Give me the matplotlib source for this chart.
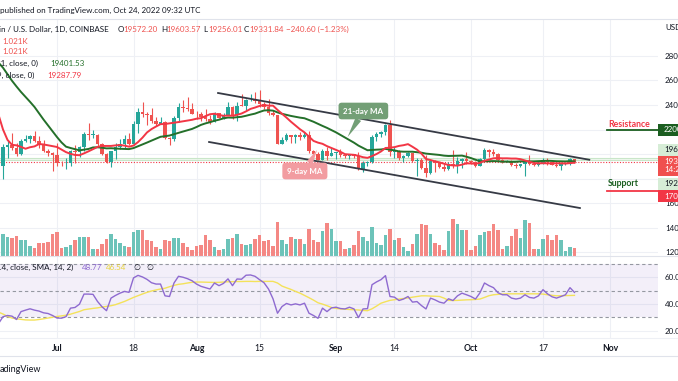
import numpy as np
import pandas as pd
import matplotlib
matplotlib.use('Agg')
import matplotlib.pyplot as plt
import matplotlib.dates as mdates
from matplotlib import transforms
from matplotlib.lines import Line2D
from matplotlib.patches import Rectangle

plt.rcParams['font.family'] = ['Lato', 'DejaVu Sans']

# daily BTC/USD candles, 18 Jun - 24 Oct 2022
dates = pd.date_range('2022-06-18', '2022-10-24', freq='D')

opens = [20390, 19010, 20560, 20710, 20500, 19970, 21090, 21230, 21490, 21030, 20730, 20270, 20100,
         19940, 19280, 19240, 19300, 20230, 20200, 20550, 21630, 21590, 21590, 20850, 19970, 19330, 20220, 20590, 20830,
         21200, 20790, 22430, 23400, 23230, 23160, 22680, 22460, 22580, 21310, 21250, 22950, 23850, 23780, 23640,
         23300, 23270, 22990, 22820, 22620, 23310, 22950, 23170, 23810, 23160, 23950, 23940, 24400, 24440, 24310, 24110,
         23850, 23340, 23190, 20830, 21140, 21520, 21400, 21530, 21370, 21560, 20240, 20040, 19550, 20280, 19800,
         20050, 20130, 19950, 19830, 20000, 19800, 18790, 19290, 19320, 21360, 21650, 21830, 22400, 20170, 20230,
         19700, 19800, 20110, 19420, 19540, 18880, 18480, 19400, 19290, 18920, 18800, 19220, 19080, 19410, 19590,
         19420, 19310, 19050, 19620, 20340, 20160, 19960, 19530, 19420, 19440, 19130, 19060, 19150, 19380, 19180,
         19070, 19270, 19550, 19330, 19130, 19040, 19170, 19200, 19572.20]
highs = [20540, 20780, 21040, 21720, 20860, 21200, 21520, 21580, 21860, 21500, 21180, 20400, 20140,
         20870, 19430, 19640, 20320, 20730, 20650, 21830, 22510, 21940, 21600, 20860, 20050, 20220, 20860, 21200, 21570,
         21680, 22710, 23780, 24270, 23440, 23760, 22990, 22990, 22660, 21350, 23080, 24190, 24440, 24650, 24180,
         23470, 23450, 23640, 23200, 23450, 23340, 23370, 24240, 23920, 24220, 24900, 24450, 24880, 25050, 25200, 24250,
         24450, 23600, 23200, 21360, 21690, 21530, 21660, 21800, 21820, 21870, 20340, 20140, 20400, 20560, 20480,
         20200, 20440, 20030, 20000, 20040, 20180, 19460, 19450, 21550, 21800, 21850, 22480, 22800, 20550, 20340,
         19900, 20180, 20120, 19690, 19640, 19950, 19490, 19480, 19320, 19180, 19310, 20350, 19780, 19640, 20180,
         19480, 19400, 19700, 20470, 20370, 20440, 20050, 19620, 19550, 19520, 19260, 19220, 19500, 19950, 19220,
         19420, 19690, 19700, 19350, 19350, 19250, 19250, 19700, 19603.57]
lows = [17620, 17960, 19650, 20360, 19800, 19890, 20940, 20900, 21000, 20530, 20190, 19850, 18630,
        19000, 19030, 18780, 19050, 19300, 19780, 20260, 21180, 21330, 20670, 19900, 19250, 18920, 19630, 20390, 20480,
        20760, 20770, 21690, 23020, 22360, 22540, 22270, 22420, 21260, 20720, 21060, 22600, 23430, 23540, 23260,
        22880, 22660, 22680, 22440, 22600, 22920, 22850, 23160, 22880, 22700, 23900, 23600, 24300, 24160, 23800, 23700,
        23200, 23110, 20800, 20800, 21100, 20900, 20890, 21150, 21320, 20120, 19800, 19550, 19550, 19550, 19800,
        19580, 19760, 19650, 19600, 19640, 18660, 18540, 19000, 19300, 21100, 21370, 21560, 19860, 19650, 19500,
        19330, 19760, 19370, 18230, 18800, 18130, 18360, 18530, 18830, 18640, 18680, 18820, 18480, 18850, 19170,
        19160, 18930, 19000, 19500, 19730, 19850, 19330, 19250, 19320, 19020, 18860, 18970, 18190, 19090, 18980,
        19060, 19160, 19100, 19070, 18900, 18670, 19130, 19070, 19256.01]
closes = [19010, 20560, 20710, 20500, 19970, 21090, 21230, 21490, 21030, 20730, 20270, 20100, 19940,
          19280, 19240, 19300, 20230, 20200, 20550, 21630, 21590, 21600, 20850, 19970, 19330, 20220, 20590, 20830, 21200,
          20790, 22430, 23400, 23230, 23160, 22680, 22460, 22580, 21310, 21250, 22950, 23850, 23780, 23640, 23300,
          23270, 22990, 22820, 22620, 23310, 22950, 23170, 23810, 23160, 23950, 23940, 24400, 24440, 24310, 24110, 23850,
          23340, 23190, 20830, 21140, 21520, 21400, 21530, 21370, 21560, 20240, 20040, 19550, 20280, 19800, 20050,
          20130, 19950, 19830, 20000, 19800, 18790, 19290, 19320, 21360, 21650, 21830, 22400, 20170, 20230, 19700,
          19800, 20110, 19420, 19540, 18880, 18480, 19400, 19290, 18920, 18800, 19220, 19080, 19410, 19590, 19420,
          19310, 19050, 19620, 20340, 20160, 19960, 19530, 19420, 19440, 19130, 19060, 19150, 19380, 19180, 19070,
          19270, 19550, 19330, 19130, 19040, 19170, 19200, 19570, 19331.84]
volume_k = [25, 22, 19, 18, 20, 16, 16, 10, 8, 13, 13, 14, 22,
            24, 8, 9, 11, 16, 19, 19, 19, 7, 7, 12, 17, 22, 17, 13, 10, 9, 24, 26, 26, 16, 15, 9, 7, 16, 15, 18, 18, 13, 9, 6,
            10, 11, 21, 16, 9, 6, 7, 17, 18, 22, 12, 11, 12, 17, 21, 15, 16, 10, 34, 16, 12, 19, 17, 17, 12, 27, 16, 14, 25, 33, 27,
            15, 15, 7, 8, 11, 25, 19, 15, 29, 13, 11, 21, 27, 16, 18, 9, 5, 12, 22, 32, 31, 22, 13, 11, 6, 25, 37, 32, 26, 26,
            6, 10, 21, 24, 25, 32, 26, 7, 10, 20, 27, 18, 36, 33, 7, 7, 17, 21, 16, 21, 16, 5, 9, 8]
ma9 = [23200, 22000, 21150, 20750, 20706, 20582, 20430, 20551, 20621, 20812, 20780, 20712, 20650,
       20573, 20368, 20153, 20013, 19921, 19901, 20052, 20218, 20401, 20576, 20657, 20660, 20659, 20702, 20733, 20686,
       20597, 20690, 20973, 21336, 21761, 22034, 22242, 22437, 22449, 22500, 22558, 22608, 22669, 22722, 22791,
       22881, 22927, 23094, 23247, 23287, 23187, 23119, 23138, 23122, 23198, 23303, 23479, 23681, 23792, 23921, 23997,
       23944, 23948, 23601, 23290, 22970, 22632, 22323, 22019, 21764, 21420, 21070, 20928, 20832, 20641, 20491,
       20336, 20178, 19986, 19959, 19932, 19848, 19738, 19684, 19830, 19999, 20208, 20493, 20512, 20560, 20661,
       20718, 20806, 20590, 20356, 20028, 19592, 19507, 19402, 19316, 19204, 19106, 19068, 19053, 19132, 19237,
       19227, 19200, 19278, 19449, 19553, 19651, 19664, 19646, 19648, 19628, 19629, 19577, 19470, 19361, 19262,
       19233, 19248, 19236, 19236, 19233, 19236, 19216, 19259, 19287.79]
ma21 = [27463, 27040, 26515, 25977, 25509, 25063, 24660, 24261, 23838, 23331, 22814, 22333, 21849,
        21381, 20945, 20598, 20490, 20394, 20297, 20355, 20412, 20535, 20549, 20513, 20458, 20470, 20446, 20427, 20413,
        20401, 20482, 20631, 20780, 20934, 21096, 21249, 21405, 21457, 21507, 21621, 21727, 21831, 21929, 22045,
        22202, 22377, 22500, 22597, 22715, 22799, 22912, 22978, 22966, 23000, 23038, 23120, 23214, 23296, 23430, 23553,
        23572, 23540, 23400, 23281, 23196, 23107, 23038, 22969, 22918, 22772, 22633, 22461, 22293, 22133, 21947,
        21766, 21554, 21334, 21129, 20924, 20683, 20490, 20306, 20331, 20355, 20370, 20418, 20353, 20299, 20210,
        20189, 20192, 20186, 20151, 20107, 20032, 19998, 19966, 19923, 19866, 19838, 19852, 19858, 19870, 19778,
        19667, 19534, 19402, 19410, 19407, 19419, 19406, 19373, 19374, 19355, 19363, 19395, 19394, 19389, 19396,
        19419, 19434, 19446, 19433, 19407, 19395, 19390, 19414, 19401.53]
rsi = [25.5, 30.6, 31.5, 31.0, 28.5, 34.4, 35.5, 36.5, 35.5, 34.8, 33.5, 33.0, 31.5,
       29.6, 29.5, 30.6, 37.0, 37.5, 40.0, 47.5, 47.5, 47.3, 42.0, 38.0, 35.1, 44.5, 46.5, 48.2, 49.5,
       48.8, 59.6, 61.5, 60.3, 58.5, 56.0, 55.0, 55.0, 46.2, 45.7, 55.8, 60.8, 60.1, 59.0, 57.5,
       55.0, 53.3, 52.3, 51.3, 55.8, 53.8, 55.5, 58.9, 53.8, 58.8, 58.6, 61.6, 61.8, 60.8, 58.3, 56.0,
       51.3, 44.0, 33.2, 38.2, 40.5, 39.4, 40.2, 39.4, 40.7, 33.2, 31.5, 29.4, 37.0, 34.4, 37.2,
       37.7, 36.7, 36.4, 37.7, 36.4, 29.9, 36.4, 36.6, 54.5, 56.6, 58.3, 61.3, 45.7, 45.2, 42.7,
       43.8, 45.7, 41.5, 41.9, 38.9, 36.4, 44.5, 43.2, 41.5, 40.7, 44.0, 42.7, 46.2, 48.2, 47.0,
       45.7, 43.8, 48.5, 55.8, 53.8, 52.3, 48.5, 47.0, 47.0, 44.5, 43.8, 44.5, 47.0, 45.0, 44.5,
       46.2, 50.8, 47.7, 45.5, 44.5, 45.7, 47.0, 52.3, 48.77]
rsi_ma = [34.0, 32.6, 30.8, 29.6, 29.0, 28.6, 28.2, 28.1, 28.1, 28.5, 29.0, 29.6, 30.2,
          30.8, 31.2, 31.7, 32.5, 33.5, 34.5, 35.8, 36.3, 36.8, 37.2, 37.8, 38.3, 38.8, 39.6, 40.8, 42.0,
          43.5, 45.0, 46.3, 47.6, 48.8, 49.8, 50.6, 51.3, 51.9, 53.0, 54.0, 54.8, 55.2, 55.8, 56.3,
          56.5, 56.5, 56.4, 56.3, 56.2, 56.3, 56.5, 56.7, 56.8, 56.9, 56.9, 57.0, 57.0, 56.9, 57.0, 57.0,
          57.0, 57.0, 55.8, 53.5, 52.2, 51.0, 49.5, 48.2, 46.5, 44.8, 43.0, 41.0, 40.0, 38.8, 37.5,
          36.8, 36.4, 36.2, 36.0, 35.8, 35.6, 35.3, 35.1, 36.5, 38.5, 40.7, 41.8, 42.8, 43.3, 43.8,
          44.2, 44.6, 45.2, 45.7, 46.2, 46.2, 46.0, 45.9, 45.7, 44.5, 42.8, 42.7, 42.8, 43.0, 43.2,
          43.3, 43.5, 43.8, 45.0, 46.3, 47.0, 47.3, 47.5, 47.7, 47.7, 47.7, 47.7, 47.7, 47.7, 47.7,
          47.7, 47.5, 47.0, 46.6, 46.2, 46.3, 46.4, 46.5, 46.54]

tick_dates = ['2022-07-01', '2022-07-18', '2022-08-01', '2022-08-15', '2022-09-01',
              '2022-09-14', '2022-10-01', '2022-10-17', '2022-11-01']
tick_labels = ['Jul', '18', 'Aug', '15', 'Sep', '14', 'Oct', '17', 'Nov']
price_ticks = [12000, 14000, 16000, 18000, 20000, 22000, 24000, 26000, 28000]
hidden_ticks = [18000, 20000, 22000]  # sit behind the coloured price tags
rsi_ticks = [20, 40, 60]

# drawings on the chart
channel_upper = [('2022-08-05 19:00', 24980), ('2022-10-27 07:00', 19530)]
channel_lower = [('2022-08-03 19:00', 20980), ('2022-10-25 05:00', 15590)]
level_start = '2022-10-31 05:00'
resistance = 22000
support = 17000
last_close = 19331.84
zone = (19510, 19700)
ma21_note = [('2022-09-03 14:00', 21390), ('2022-09-07 02:00', 23510)]
ma9_note = [('2022-08-27 19:00', 20330), ('2022-08-25 02:00', 18610)]

UP, DOWN = '#26a69a', '#ef5350'
VOL_UP, VOL_DOWN = '#6cc3b9', '#f48884'
MA9_C, MA21_C = '#f23645', '#24702a'
GRID = '#eef0f5'
TXT = '#131722'

W, H = 678, 381
fig = plt.figure(figsize=(W / 100, H / 100), dpi=100)


def fx(px):
    return px / W


def fy(py):
    return 1 - py / H


def dn(s):
    return mdates.date2num(pd.Timestamp(s))


x = mdates.date2num(dates)
x0 = dn('2022-07-01')

main_box = [0, fy(256), fx(658), 237 / H]
rsi_box = [0, fy(338), fx(658), 82 / H]
vol_ax = fig.add_axes(main_box)
ax = fig.add_axes(main_box, sharex=vol_ax)
rsi_ax = fig.add_axes(rsi_box, sharex=vol_ax)
vol_ax.set_zorder(1)
ax.set_zorder(2)
ax.patch.set_visible(False)
for a in (vol_ax, ax, rsi_ax):
    for s in a.spines.values():
        s.set_visible(False)

rsi_ax.set_xlim(x0 - 12.67, x0 + 133.56)
rsi_ax.set_xticks([dn(d) for d in tick_dates])
rsi_ax.set_xticklabels(tick_labels)
for lab, t in zip(rsi_ax.get_xticklabels(), tick_labels):
    lab.set_fontweight('bold' if not t.isdigit() else 'normal')
rsi_ax.tick_params(axis='x', length=0, pad=4, labelsize=6.2, labelcolor=TXT)

# volume (behind the candles)
o, h, l, c = map(np.array, (opens, highs, lows, closes))
up = c >= o
vol_ax.bar(x, volume_k, width=0.78, color=np.where(up, VOL_UP, VOL_DOWN), lw=0, zorder=2)
vol_ax.set_ylim(0, 237)
vol_ax.tick_params(left=False, labelleft=False, bottom=False, labelbottom=False)
vol_ax.grid(axis='x', color=GRID, lw=0.8)
vol_ax.set_axisbelow(True)
blend = transforms.blended_transform_factory(vol_ax.transAxes, ax.transData)
for p in price_ticks:
    vol_ax.plot([0, 1], [p, p], transform=blend, color=GRID, lw=0.8, zorder=0)

# price pane
ax.set_ylim(11674, 31020)
ax.set_yticks(price_ticks)
ax.set_yticklabels(['' if p in hidden_ticks else str(p) for p in price_ticks])
ax.yaxis.tick_right()
ax.tick_params(axis='y', length=0, pad=5, labelsize=5.8, labelcolor=TXT)
ax.tick_params(axis='x', bottom=False, labelbottom=False)

ax.axhspan(zone[0], zone[1], color='#e6f4e6', alpha=0.6, lw=0, zorder=1)
for z in zone:
    ax.axhline(z, color='#c9e6c9', lw=0.8, zorder=1)
ax.axhline(last_close, color=MA9_C, lw=0.8, ls=(0, (1, 1.5)), zorder=2)

cols = np.where(up, UP, DOWN)
ax.vlines(x, l, h, colors=cols, lw=0.8, zorder=3)
ax.bar(x, np.maximum(np.abs(c - o), 30), bottom=np.minimum(o, c), width=0.7, color=cols, lw=0, zorder=4)
ax.plot(x, ma21, color=MA21_C, lw=1.4, zorder=5)
ax.plot(x, ma9, color=MA9_C, lw=1.4, zorder=5)

for line in (channel_upper, channel_lower):
    ax.plot([dn(line[0][0]), dn(line[1][0])], [line[0][1], line[1][1]], color='#363a45', lw=1.3, zorder=6)

x_end = x0 + 133.56
ax.plot([dn(level_start), x_end], [resistance, resistance], color='#1b5e20', lw=1.3, zorder=6)
ax.plot([dn(level_start), x_end], [support, support], color='#f23645', lw=1.3, zorder=6)
ax.text(dn(level_start) + 0.2, resistance + 430, 'Resistance', color='#f23645', fontsize=6.3,
        fontweight='bold', va='center', ha='left', zorder=6)
ax.text(dn(level_start) + 0.2, support + 590, 'Support', color='#1b5e20', fontsize=6.3,
        fontweight='bold', va='center', ha='left', zorder=6)

for note, text, fc in ((ma21_note, '21-day MA', '#739f76'), (ma9_note, '9-day MA', '#f29ca1')):
    ax.annotate(text, xy=(dn(note[0][0]), note[0][1]), xytext=(dn(note[1][0]), note[1][1]),
                ha='center', va='center', fontsize=5.8, color='white', fontweight='bold', zorder=7,
                bbox=dict(boxstyle='round,pad=0.6,rounding_size=0.4', fc=fc, ec='none'),
                arrowprops=dict(arrowstyle='wedge,tail_width=0.8', fc=fc, ec='none', shrinkA=0, shrinkB=0))

# RSI pane
rsi_ax.set_ylim(14.67, 75.98)
rsi_ax.axhspan(30, 70, color='#7e57c2', alpha=0.09, lw=0)
for lvl in (30, 50, 70):
    rsi_ax.axhline(lvl, color='#9598a1', lw=0.8, ls=(0, (3, 2.5)))
rsi_ax.plot(x, rsi_ma, color='#f4e25a', lw=1.0)
rsi_ax.plot(x, rsi, color='#8e6ad0', lw=1.0)
rsi_ax.set_yticks(rsi_ticks)
rsi_ax.set_yticklabels(['%.2f' % t for t in rsi_ticks])
rsi_ax.yaxis.tick_right()
rsi_ax.tick_params(axis='y', length=0, pad=5, labelsize=5.8, labelcolor=TXT)
rsi_ax.grid(color=GRID, lw=0.8)
rsi_ax.set_axisbelow(True)

# frame lines
for yy, col in ((18.5, '#e0e3eb'), (256, '#e0e3eb'), (338, '#eef0f5'), (356, '#e0e3eb')):
    fig.add_artist(Line2D([0, 1], [fy(yy), fy(yy)], transform=fig.transFigure, color=col, lw=0.8))

# header and legends
fs = 5.8
fig.text(fx(0), fy(10), 'published on TradingView.com, Oct 24, 2022 09:32 UTC', fontsize=fs, color=TXT, va='center')
fig.text(fx(-1), fy(29), 'in / U.S. Dollar, 1D, COINBASE', fontsize=fs, color=TXT, va='center')
for lx, letter, val in ((118, 'O', '19572.20'), (161, 'H', '19603.57'), (203, 'L', '19256.01'), (244, 'C', '19331.84')):
    fig.text(fx(lx), fy(29), letter, fontsize=fs, color=TXT, va='center')
    fig.text(fx(lx + 5.5), fy(29), val, fontsize=fs, color=DOWN, va='center')
fig.text(fx(286), fy(29), '\u2212240.60 (\u22121.23%)', fontsize=fs, color=DOWN, va='center')
fig.text(fx(2), fy(41), '1.021K', fontsize=fs, color=DOWN, va='center')
fig.text(fx(2), fy(52), '1.021K', fontsize=fs, color=DOWN, va='center')
fig.text(fx(-4), fy(63), '21, close, 0)', fontsize=fs, color=TXT, va='center')
fig.text(fx(50), fy(63), '19401.53', fontsize=fs, color=MA21_C, va='center')
fig.text(fx(-3), fy(75), '9, close, 0)', fontsize=fs, color=TXT, va='center')
fig.text(fx(47), fy(75), '19287.79', fontsize=fs, color=MA9_C, va='center')
fig.text(fx(-3), fy(267), '14, close, SMA, 14, 2)', fontsize=fs, color=TXT, va='center')
fig.text(fx(82), fy(267), '48.77', fontsize=fs, color='#8e6ad0', va='center')
fig.text(fx(106), fy(267), '46.54', fontsize=fs, color='#e8d43c', va='center')
fig.text(fx(133), fy(267), '\u2205', fontsize=fs, color=TXT, va='center')
fig.text(fx(146), fy(267), '\u2205', fontsize=fs, color=TXT, va='center')
fig.text(fx(665), fy(28), 'USD', fontsize=5.8, color=TXT, va='center')
fig.text(fx(0), fy(369), 'adingView', fontsize=6.5, color=TXT, va='center')


# price scale labels
def price_box(top, bottom, fc, lines, tc):
    fig.add_artist(Rectangle((fx(658), fy(bottom)), fx(W - 658), (bottom - top) / H,
                             transform=fig.transFigure, fc=fc, ec='none', zorder=5))
    for txt, yy in lines:
        fig.text(fx(664), fy(yy), txt, fontsize=5.8, color=tc, va='center', zorder=6)


price_box(124, 136, '#1b5e20', [('22000', 130)], 'white')
price_box(144, 156, '#d6edd6', [('19620', 150)], TXT)
price_box(156, 176, '#f0504e', [('19331', 162), ('14:27', 170)], 'white')
price_box(178, 190, '#d6edd6', [('19270', 184)], TXT)
price_box(190, 202, '#f23645', [('17000', 196)], 'white')

fig.savefig('out.png', dpi=100, facecolor='white')
